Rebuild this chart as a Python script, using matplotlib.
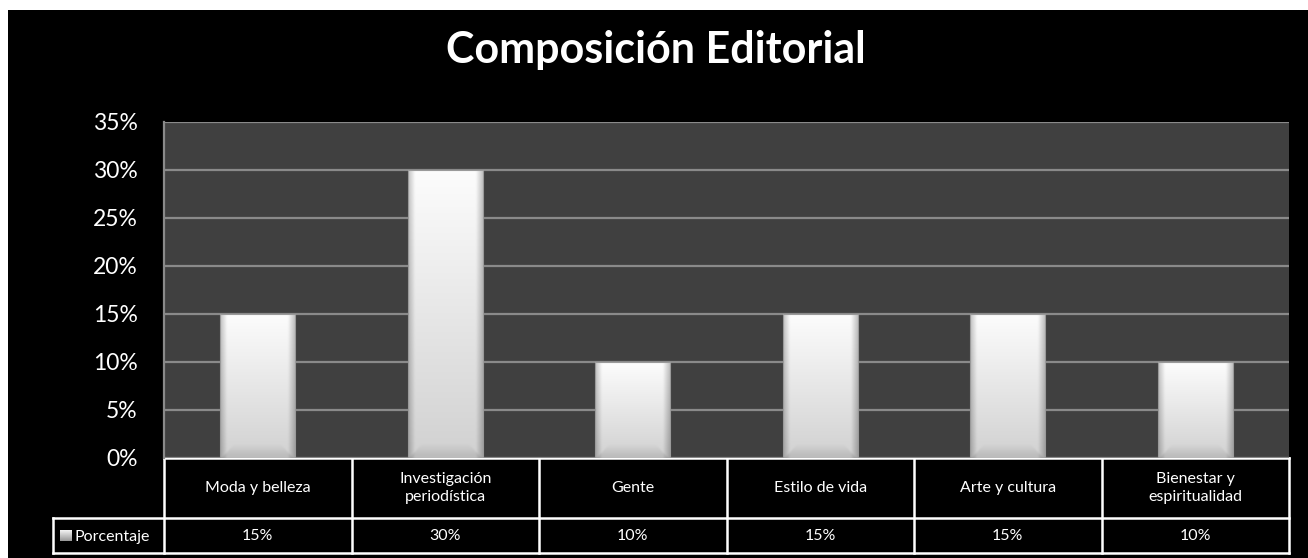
import numpy as np
import matplotlib.pyplot as plt
from matplotlib.patches import Rectangle

plt.rcParams['font.family'] = ['Lato', 'DejaVu Sans']

categories = ['Moda y belleza', 'Investigación\nperiodística', 'Gente',
              'Estilo de vida', 'Arte y cultura', 'Bienestar y\nespiritualidad']
porcentaje = [0.15, 0.30, 0.10, 0.15, 0.15, 0.10]
value_labels = ['15%', '30%', '10%', '15%', '15%', '10%']
serie = 'Porcentaje'
titulo = 'Composición Editorial'
yticks = [0, 0.05, 0.10, 0.15, 0.20, 0.25, 0.30, 0.35]

W, H = 1308, 558
fig = plt.figure(figsize=(W / 100, H / 100), dpi=100, facecolor='white')

# overlay in pixel coordinates for the background, title and data table
bg = fig.add_axes([0, 0, 1, 1])
bg.set_xlim(0, W)
bg.set_ylim(H, 0)
bg.axis('off')
bg.add_patch(Rectangle((8, 10), W - 8, H - 10, facecolor='black', edgecolor='none'))
bg.text(656, 50, titulo, color='white', fontsize=31, fontweight='bold',
        ha='center', va='center')

x0, x1, ytop, y0 = 164, 1289, 122, 458
ax = fig.add_axes([x0 / W, (H - y0) / H, (x1 - x0) / W, (y0 - ytop) / H])
ax.set_facecolor('#404040')
n = len(categories)
ax.set_xlim(-0.5, n - 0.5)
ax.set_ylim(0, 0.35)
ax.set_yticks(yticks)
ax.set_yticklabels([f'{int(round(t * 100))}%' for t in yticks])
ax.tick_params(axis='y', colors='white', labelsize=16.5, length=0, pad=19)
ax.set_xticks([])
ax.grid(axis='y', color='#8a8a8a', linewidth=1.6)
ax.set_axisbelow(True)
for s in ['top', 'right', 'bottom']:
    ax.spines[s].set_visible(False)
ax.spines['left'].set_color('#8a8a8a')
ax.spines['left'].set_linewidth(1.6)

# bars with a soft bevelled white-grey fill
bars = ax.bar(range(n), porcentaje, width=0.4, color='none', edgecolor='none', zorder=3)
for b in bars:
    bx, by = b.get_x(), b.get_y()
    bw, bh = b.get_width(), b.get_height()
    ny, nx = 160, 60
    yy = np.linspace(0, 1, ny)[:, None]          # 0 = top, 1 = bottom
    xx = np.linspace(0, 1, nx)[None, :]
    base = 0.99 - 0.17 * yy
    edge = np.minimum(xx, 1 - xx)
    side = np.clip(edge / 0.09, 0, 1)
    shade = base * (0.78 + 0.22 * side)
    bot_px = (1 - yy) * bh / 0.35 * 336
    bevel = np.clip((bot_px - 2) / 12, 0, 1)
    inner = np.clip((edge * 74 - bot_px * 0.9) / 3, 0, 1)
    shade = shade * (1 - 0.10 * (1 - bevel) * inner)
    img = np.dstack([shade, shade, shade])
    im = ax.imshow(img, extent=[bx, bx + bw, by, by + bh], aspect='auto',
                   zorder=3, interpolation='bilinear')
    im.set_clip_path(b)
    ax.add_patch(Rectangle((bx, by), bw, bh, facecolor='none',
                           edgecolor='#9a9a9a', linewidth=0.8, zorder=4))

# data table under the plot
r1, r2, r3 = 458, 518, 553
cw = (x1 - x0) / n
lw = 1.8
bg.plot([x0, x1], [r1, r1], color='white', lw=lw)
bg.plot([53, x1], [r2, r2], color='white', lw=lw)
bg.plot([53, x1], [r3, r3], color='white', lw=lw)
bg.plot([53, 53], [r2, r3], color='white', lw=lw)
for i in range(n + 1):
    xv = x0 + i * cw
    bg.plot([xv, xv], [r1, r3], color='white', lw=lw)
for i, (c, v) in enumerate(zip(categories, value_labels)):
    xc = x0 + (i + 0.5) * cw
    bg.text(xc, (r1 + r2) / 2, c, color='white', fontsize=11.5, ha='center',
            va='center', linespacing=1.35)
    bg.text(xc, (r2 + r3) / 2 + 1, v, color='white', fontsize=11.5, ha='center', va='center')

# legend key
key = np.linspace(0.95, 0.6, 20)[:, None] * np.ones((1, 20))
bg.imshow(np.dstack([key, key, key]), extent=[60, 72, 541, 530], zorder=5)
bg.set_xlim(0, W)
bg.set_ylim(H, 0)
bg.text(75, (r2 + r3) / 2 + 1, serie, color='white', fontsize=11.5, ha='left', va='center')

fig.savefig('out.png', dpi=100, facecolor='white')
